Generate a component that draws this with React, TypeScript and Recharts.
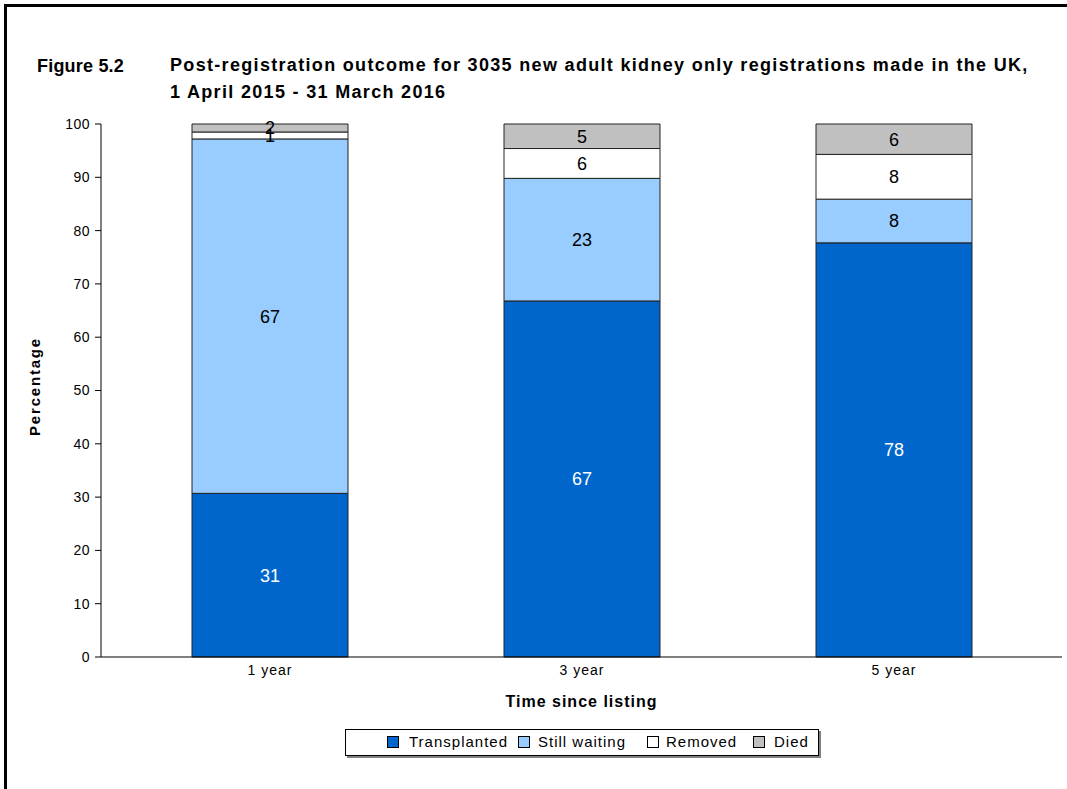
import React from "react"
import { Bar, BarChart, LabelList, XAxis, YAxis } from "recharts"

const categories = ["1 year", "3 year", "5 year"]
const transplanted = [30.7, 66.8, 77.7]
const stillWaiting = [66.5, 23.0, 8.2]
const removed = [1.3, 5.6, 8.4]
const died = [1.5, 4.6, 5.7]
const yTicks = [0, 10, 20, 30, 40, 50, 60, 70, 80, 90, 100]

const seriesNames = ["Transplanted", "Still waiting", "Removed", "Died"]
const seriesKeys = ["transplanted", "stillWaiting", "removed", "died"]
const seriesColors = ["#0066CC", "#99CCFF", "#FFFFFF", "#C0C0C0"]
const labelColors = ["#FFFFFF", "#000000", "#000000", "#000000"]

const data = categories.map((name, i) => ({
  name,
  transplanted: transplanted[i],
  stillWaiting: stillWaiting[i],
  removed: removed[i],
  died: died[i],
}))

const FONT = '"Liberation Sans", Arial, sans-serif'

// legend item x positions (square, text)
const legendSquareX = [41, 172, 301, 407]
const legendTextX = [63, 192, 320, 428]

export default function App() {
  return (
    <div style={{ position: "fixed", left: 0, top: 0, width: 1067, height: 789, background: "#fff", fontFamily: FONT, overflow: "hidden" }}>
      {/* frame: only top and left edges are visible */}
      <div style={{ position: "absolute", left: 4, top: 4, width: 1063, height: 3, background: "#000" }} />
      <div style={{ position: "absolute", left: 4, top: 4, width: 3, height: 785, background: "#000" }} />

      {/* title */}
      <div style={{ position: "absolute", left: 37, top: 56, fontSize: 18, fontWeight: "bold", whiteSpace: "nowrap", letterSpacing: 0.2 }}>Figure 5.2</div>
      <div style={{ position: "absolute", left: 170, top: 52, fontSize: 18, fontWeight: "bold", whiteSpace: "nowrap", lineHeight: "27px", letterSpacing: 1.32 }}>
        Post-registration outcome for 3035 new adult kidney only registrations made in the UK,
        <br />1 April 2015 - 31 March 2016
      </div>

      <div style={{ position: "absolute", left: 0, top: 0, width: 1067, height: 789 }}>
        <BarChart width={1067} height={789} data={data} margin={{ top: 124, right: 5, bottom: 102, left: 41 }} barCategoryGap="25%">
          <XAxis
            dataKey="name"
            height={30}
            tickLine={false}
            axisLine={{ stroke: "#000" }}
            padding={{ left: 13, right: 12 }}
            tick={{ fill: "#000", fontSize: 14, fontFamily: FONT, letterSpacing: 1 }}
            label={{
              content: ({ viewBox }: any) => (
                <text
                  x={viewBox.x + viewBox.width / 2}
                  y={707}
                  textAnchor="middle"
                  fontSize={16}
                  fontWeight="bold"
                  fontFamily={FONT}
                  letterSpacing={1}
                  fill="#000"
                >
                  Time since listing
                </text>
              ),
            }}
          />
          <YAxis
            width={60}
            domain={[0, 100]}
            ticks={yTicks}
            interval={0}
            tickSize={6}
            tickMargin={5}
            axisLine={{ stroke: "#000" }}
            tickLine={{ stroke: "#000" }}
            tick={{ fill: "#000", fontSize: 14, fontFamily: FONT, letterSpacing: 0.5 }}
            label={{
              content: ({ viewBox }: any) => (
                <text
                  x={40}
                  y={viewBox.y + viewBox.height / 2 - 4}
                  textAnchor="middle"
                  fontSize={15}
                  fontWeight="bold"
                  fontFamily={FONT}
                  letterSpacing={1.8}
                  fill="#000"
                  transform={`rotate(-90, 40, ${viewBox.y + viewBox.height / 2 - 4})`}
                >
                  Percentage
                </text>
              ),
            }}
          />
          {seriesKeys.map((key, i) => (
            <Bar key={key} dataKey={key} name={seriesNames[i]} stackId="a" fill={seriesColors[i]} stroke="#222" strokeWidth={1} isAnimationActive={false}>
              <LabelList
                dataKey={key}
                position="center"
                formatter={(v: any) => Math.round(Number(v))}
                fill={labelColors[i]}
                fontSize={18}
                fontFamily={FONT}
              />
            </Bar>
          ))}
        </BarChart>
      </div>

      {/* legend */}
      <div
        style={{
          position: "absolute",
          left: 345,
          top: 729,
          width: 472,
          height: 25,
          border: "1px solid #000",
          boxShadow: "2px 2px 0 #808080",
          fontSize: 15,
          letterSpacing: 1,
          background: "#fff",
        }}
      >
        {seriesNames.map((n, i) => (
          <React.Fragment key={n}>
            <div style={{ position: "absolute", left: legendSquareX[i], top: 6, width: 10, height: 10, border: "1px solid #000", background: seriesColors[i] }} />
            <span style={{ position: "absolute", left: legendTextX[i], top: 3, whiteSpace: "nowrap", lineHeight: "18px" }}>{n}</span>
          </React.Fragment>
        ))}
      </div>
    </div>
  )
}
